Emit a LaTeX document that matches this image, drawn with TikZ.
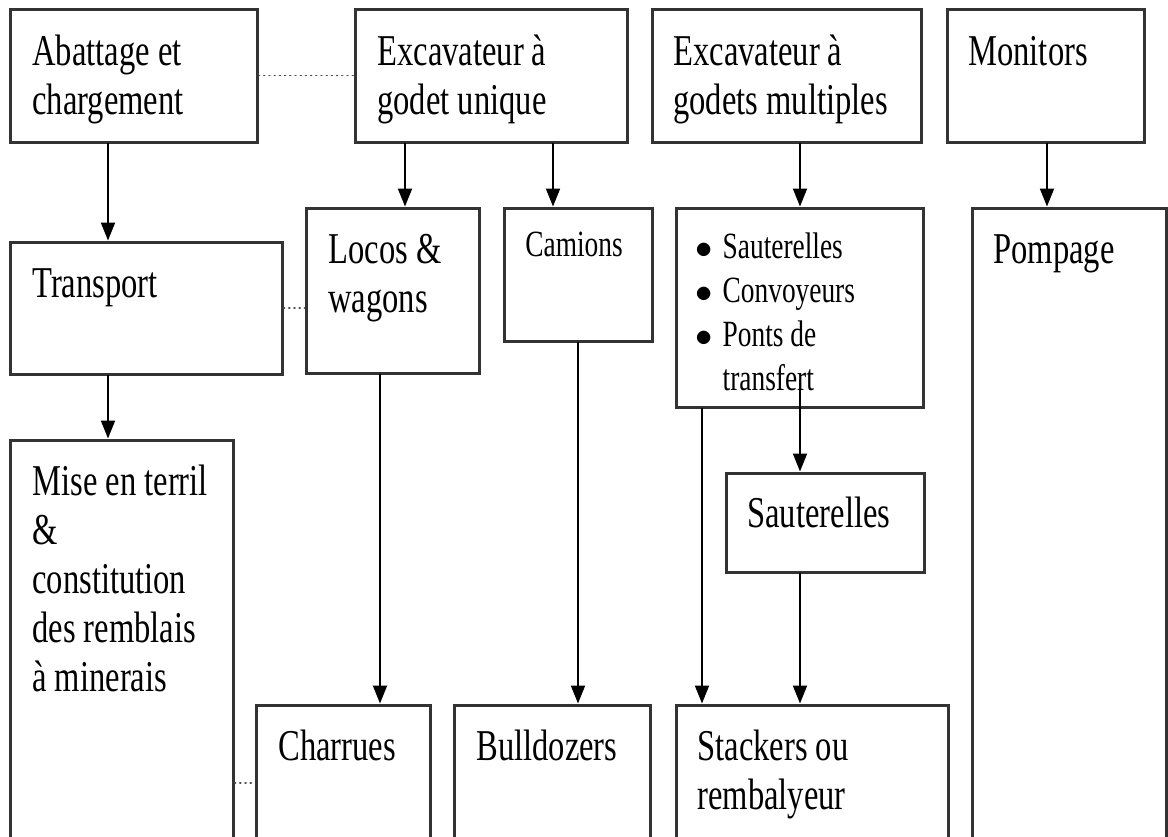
\documentclass[tikz,border=0pt]{standalone}
\usepackage{fontspec}
\setmainfont{Liberation Serif}[FakeStretch=0.74]
\usetikzlibrary{arrows.meta,fit}

\begin{document}
\begin{tikzpicture}[x=0.5pt,y=-0.5pt,>={Triangle[length=9pt,width=7pt]},line cap=round,
  box/.style={draw=black!80,line width=1.5pt,inner sep=0pt,line cap=rect},
  txt/.style={anchor=base west,inner sep=0pt,align=left,font=\fontsize{22}{24.5}\selectfont},
  smalltxt/.style={txt,font=\fontsize{18.5}{22}\selectfont},
  arr/.style={->,line width=1pt},
  link/.style={draw=black!70,line width=0.6pt,dotted}]
\clip (0,0) rectangle (1168,836);
\fill[white] (0,0) rectangle (1168,836);
% boxes
\node[box,fit={(10,9) (257,142)}] (abat) {};
\node[box,fit={(355,9) (627,142)}] (exca) {};
\node[box,fit={(652,9) (921,142)}] (excb) {};
\node[box,fit={(947,9) (1144,142)}] (moni) {};
\node[box,fit={(10,242) (282,374)}] (transp) {};
\node[box,fit={(306,208) (479,373)}] (locos) {};
\node[box,fit={(504,208) (652,341)}] (cam) {};
\node[box,fit={(676,208) (923,407)}] (liste) {};
\node[box,fit={(972,208) (1166,861)}] (pomp) {};
\node[box,fit={(10,440) (233,861)}] (mise) {};
\node[box,fit={(726,473) (924,572)}] (saut) {};
\node[box,fit={(256,705) (430,861)}] (charr) {};
\node[box,fit={(454,705) (650,861)}] (bull) {};
\node[box,fit={(676,705) (948,861)}] (stack) {};
% texts (base = last line)
\node[txt] (tabat) at (32,114) {Abattage et\\chargement};
\node[txt] (texca) at (377,114) {Excavateur à\\godet unique};
\node[txt] (texcb) at (673,114) {Excavateur à\\godets multiples};
\node[txt] (tmoni) at (968,65) {Monitors};
\node[txt] (ttransp) at (32,297) {Transport};
\node[txt] (tlocos) at (328,312) {Locos \&\\wagons};
\node[smalltxt] (tcam) at (525,256) {Camions};
\node[smalltxt] (tliste) at (695,258) {\begin{tabular}[t]{@{}l@{\hspace{5pt}}l@{}}
  $\bullet$ & Sauterelles\\
  $\bullet$ & Convoyeurs\\
  $\bullet$ & Ponts de\\
  & transfert
\end{tabular}};
\node[txt] (tpomp) at (993,263) {Pompage};
\node[txt] (tmise) at (32,691) {Mise en terril\\\&\\constitution\\des remblais\\à minerais};
\node[txt] (tsaut) at (747,527) {Sauterelles};
\node[txt] (tcharr) at (278,760) {Charrues};
\node[txt] (tbull) at (476,760) {Bulldozers};
\node[txt] (tstack) at (697,809) {Stackers ou\\rembalyeur};
% arrow columns
\coordinate (xa) at (108,0);
\coordinate (xb) at (405,0);
\coordinate (xc) at (553,0);
\coordinate (xd) at (800,0);
\coordinate (xe) at (1047,0);
\coordinate (xf) at (380,0);
\coordinate (xg) at (578,0);
\coordinate (xh) at (702,0);
\coordinate (tstart) at (800,380);
% arrows
\draw[arr] (abat.south -| xa) -- (transp.north -| xa);
\draw[arr] (transp.south -| xa) -- (mise.north -| xa);
\draw[arr] (exca.south -| xb) -- (locos.north -| xb);
\draw[arr] (exca.south -| xc) -- (cam.north -| xc);
\draw[arr] (excb.south -| xd) -- (liste.north -| xd);
\draw[arr] (moni.south -| xe) -- (pomp.north -| xe);
\draw[arr] (locos.south -| xf) -- (charr.north -| xf);
\draw[arr] (cam.south -| xg) -- (bull.north -| xg);
\draw[arr] (liste.south -| xh) -- (stack.north -| xh);
\draw[arr] (tstart) -- (saut.north -| tstart);
\draw[arr] (saut.south -| xd) -- (stack.north -| xd);
% dotted links
\draw[link] (abat.east) -- (exca.west);
\draw[link] (transp.east) -- (transp.east -| locos.west);
\draw[link] (charr.west -| mise.east) -- (charr.west);
\end{tikzpicture}
\end{document}
